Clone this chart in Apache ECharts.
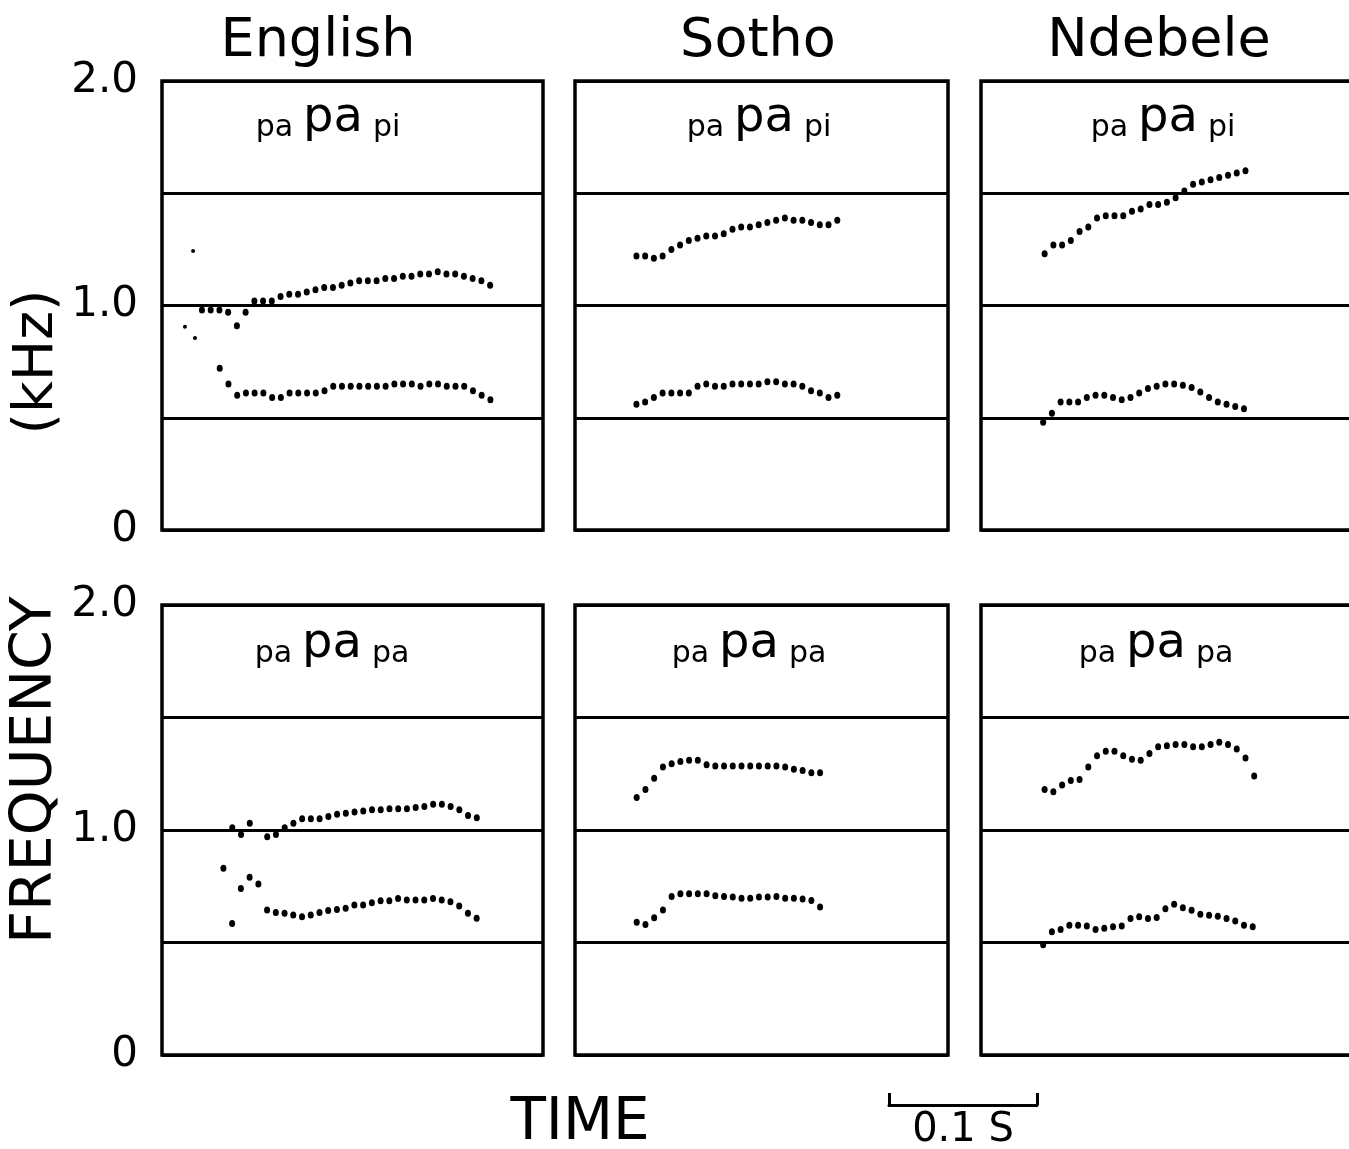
<!DOCTYPE html>
<html><head><meta charset="utf-8">
<script src="https://cdn.jsdelivr.net/npm/echarts@6/dist/echarts.min.js"></script>
<style>html,body{margin:0;padding:0;background:#fff}#c{width:1349px;height:1149px}</style>
</head><body><div id="c"></div>
<script>
// ---------------- data (time in ms, frequency in kHz) ----------------
const languages = ['English', 'Sotho', 'Ndebele'];
const utterances = ['pi', 'pa'];           // paPApi (top row), paPApa (bottom row)
const FRAME_MS = 5.9;                      // analysis frame step
const yTickLabels = {0: '0', 1: '1.0', 2: '2.0'};

// English paPApi
const engPiF2Start = 27;
const engPiF2 = [0.98,0.98,0.98,0.97,0.91,0.97,1.02,1.02,1.02,1.04,1.05,1.05,1.06,1.07,1.08,1.08,1.09,1.10,1.11,1.11,1.11,1.12,1.12,1.13,1.13,1.14,1.14,1.15,1.14,1.14,1.13,1.12,1.11,1.09];
const engPiF1Start = 39;
const engPiF1 = [0.72,0.65,0.60,0.61,0.61,0.61,0.59,0.59,0.61,0.61,0.61,0.61,0.62,0.64,0.64,0.64,0.64,0.64,0.64,0.64,0.65,0.65,0.65,0.64,0.65,0.65,0.64,0.64,0.64,0.62,0.60,0.58];
const engPiStray = [[15.5,0.905],[21,1.243],[22.3,0.855]];

// Sotho paPApi
const sotPiF2Start = 41.5;
const sotPiF2 = [1.22,1.22,1.21,1.22,1.25,1.27,1.29,1.30,1.31,1.31,1.32,1.34,1.35,1.35,1.36,1.37,1.38,1.39,1.38,1.38,1.37,1.36,1.36,1.38];
const sotPiF1Start = 41.5;
const sotPiF1 = [0.56,0.57,0.59,0.61,0.61,0.61,0.61,0.64,0.65,0.64,0.64,0.65,0.65,0.65,0.65,0.66,0.66,0.65,0.65,0.64,0.62,0.61,0.59,0.60];

// Ndebele paPApi
const ndePiF2Start = 43;
const ndePiF2 = [1.23,1.27,1.27,1.29,1.33,1.35,1.39,1.40,1.40,1.40,1.42,1.43,1.45,1.45,1.46,1.48,1.51,1.54,1.55,1.56,1.57,1.58,1.59,1.60];
const ndePiF1Start = 42;
const ndePiF1 = [0.48,0.52,0.57,0.57,0.57,0.59,0.60,0.60,0.59,0.58,0.59,0.61,0.63,0.64,0.65,0.65,0.645,0.635,0.615,0.59,0.57,0.56,0.55,0.54];

// English paPApa
const engPaF2Start = 47.5;
const engPaF2 = [1.01,0.98,1.03,null,0.97,0.98,1.01,1.03,1.05,1.05,1.05,1.06,1.07,1.075,1.08,1.085,1.09,1.09,1.095,1.095,1.095,1.10,1.105,1.115,1.115,1.105,1.09,1.065,1.055];
const engPaF1Start = 41.5;
const engPaF1 = [0.83,0.585,0.74,0.79,0.76,0.645,0.633,0.63,0.622,0.615,0.622,0.633,0.642,0.647,0.652,0.667,0.667,0.677,0.686,0.686,0.696,0.689,0.689,0.689,0.696,0.689,0.681,0.662,0.63,0.608];

// Sotho paPApa
const sotPaF2Start = 41.7;
const sotPaF2 = [1.145,1.18,1.23,1.28,1.295,1.305,1.31,1.31,1.29,1.285,1.285,1.285,1.285,1.285,1.285,1.285,1.285,1.28,1.27,1.265,1.255,1.255];
const sotPaF1Start = 41.7;
const sotPaF1 = [0.59,0.58,0.61,0.645,0.705,0.717,0.717,0.717,0.717,0.708,0.705,0.702,0.697,0.697,0.702,0.702,0.705,0.697,0.697,0.693,0.687,0.658];

// Ndebele paPApa
const ndePaF2Start = 43;
const ndePaF2 = [1.18,1.17,1.20,1.22,1.225,1.28,1.33,1.35,1.35,1.33,1.315,1.31,1.34,1.37,1.375,1.38,1.38,1.37,1.37,1.38,1.39,1.38,1.36,1.32,1.24];
const ndePaF1Start = 42;
const ndePaF1 = [0.49,0.548,0.558,0.577,0.577,0.573,0.558,0.563,0.570,0.573,0.607,0.614,0.607,0.611,0.650,0.670,0.655,0.643,0.626,0.621,0.617,0.607,0.596,0.577,0.570];

const scaleBarMs = 100;

// ---------------- layout ----------------
const PX_PER_MS = 1.48;
const FONT = 'DejaVu Sans';
const cols = [{left:162, width:381, cx:318, lx:328, lx2:332}, {left:575, width:373, cx:758, lx:759, lx2:749}, {left:981, width:380, cx:1159, lx:1163, lx2:1156}];
const rows = [{top:81, height:449, ly:117}, {top:605, height:450, ly:643}];

function track(start, vals) {
  const out = [];
  vals.forEach((v, i) => { if (v != null) out.push([start + i * FRAME_MS, v]); });
  return out;
}
const panelData = [
  [ // top row
    {f1: track(engPiF1Start, engPiF1), f2: track(engPiF2Start, engPiF2), stray: engPiStray},
    {f1: track(sotPiF1Start, sotPiF1), f2: track(sotPiF2Start, sotPiF2), stray: []},
    {f1: track(ndePiF1Start, ndePiF1), f2: track(ndePiF2Start, ndePiF2), stray: []}
  ],
  [ // bottom row
    {f1: track(engPaF1Start, engPaF1), f2: track(engPaF2Start, engPaF2), stray: []},
    {f1: track(sotPaF1Start, sotPaF1), f2: track(sotPaF2Start, sotPaF2), stray: []},
    {f1: track(ndePaF1Start, ndePaF1), f2: track(ndePaF2Start, ndePaF2), stray: []}
  ]
];

const grid = [], xAxis = [], yAxis = [], series = [], graphic = [];
let gi = 0;
rows.forEach((r, ri) => {
  cols.forEach((c, ci) => {
    grid.push({left: c.left, top: r.top, width: c.width, height: r.height, show: true,
      borderColor: '#000', borderWidth: 3.5, backgroundColor: 'transparent', containLabel: false, outerBoundsMode: 'none'});
    xAxis.push({gridIndex: gi, type: 'value', min: 0, max: c.width / PX_PER_MS, show: false});
    yAxis.push({gridIndex: gi, type: 'value', min: 0, max: 2, interval: 0.5,
      axisLine: {show: false}, axisTick: {show: false},
      splitLine: {show: true, lineStyle: {color: '#000', width: 3}},
      axisLabel: ci === 0 ? {show: true, margin: 24, color: '#000', fontFamily: FONT, fontSize: 42,
        formatter: v => (yTickLabels[v] !== undefined ? yTickLabels[v] : '')} : {show: false}});
    const d = panelData[ri][ci];
    const base = {type: 'scatter', xAxisIndex: gi, yAxisIndex: gi, silent: true,
      itemStyle: {color: '#000', opacity: 1}, symbol: 'circle'};
    series.push(Object.assign({}, base, {name: 'F1', data: d.f1, symbolSize: [6, 7]}));
    series.push(Object.assign({}, base, {name: 'F2', data: d.f2, symbolSize: [6, 7]}));
    if (d.stray.length) series.push(Object.assign({}, base, {name: 'stray', data: d.stray, symbolSize: 4}));
    gi++;
  });
});

// scale bar (0.1 s) drawn with its own time axis
grid.push({left: 889, top: 1085, width: scaleBarMs * PX_PER_MS, height: 20, show: false, outerBoundsMode: 'none'});
xAxis.push({gridIndex: gi, type: 'value', min: 0, max: scaleBarMs, interval: scaleBarMs, position: 'bottom',
  axisLine: {show: true, onZero: false, lineStyle: {color: '#000', width: 3}},
  axisTick: {show: true, inside: true, length: 12, lineStyle: {color: '#000', width: 3}},
  axisLabel: {show: false}, splitLine: {show: false},
  name: '0.1 S', nameLocation: 'middle', nameGap: 6,
  nameTextStyle: {color: '#000', fontFamily: FONT, fontSize: 40}});
yAxis.push({gridIndex: gi, type: 'value', min: 0, max: 1, show: false});

// titles and labels
cols.forEach((c, ci) => {
  graphic.push({type: 'text', x: c.cx, y: 42, style: {text: languages[ci], fill: '#000',
    font: '54px "' + FONT + '"', textAlign: 'center', textVerticalAlign: 'middle'}});
  rows.forEach((r, ri) => {
    graphic.push({type: 'text', x: ri === 0 ? c.lx : c.lx2, y: r.ly, style: {
      text: '{s|pa}{g|}{b|pa}{g|}{s|' + utterances[ri] + '}', fill: '#000', textAlign: 'center', textVerticalAlign: 'middle',
      font: '30px "' + FONT + '"',
      rich: {s: {fontSize: 30, fontFamily: FONT, lineHeight: 46, verticalAlign: 'bottom', fill: '#000'},
             g: {width: 10, fontSize: 30, lineHeight: 46},
             b: {fontSize: 48, fontFamily: FONT, lineHeight: 52, verticalAlign: 'bottom', fill: '#000'}}}});
  });
});
graphic.push({type: 'text', x: 36, y: 770, rotation: Math.PI / 2, style: {text: 'FREQUENCY', fill: '#000',
  font: '57px "' + FONT + '"', textAlign: 'center', textVerticalAlign: 'middle'}});
graphic.push({type: 'text', x: 38, y: 362, rotation: Math.PI / 2, style: {text: '(kHz)', fill: '#000',
  font: '55px "' + FONT + '"', textAlign: 'center', textVerticalAlign: 'middle'}});
graphic.push({type: 'text', x: 580, y: 1124, style: {text: 'TIME', fill: '#000',
  font: '58px "' + FONT + '"', textAlign: 'center', textVerticalAlign: 'middle'}});

const chart = echarts.init(document.getElementById('c'), null, {renderer: 'canvas'});
chart.setOption({backgroundColor: '#fff', animation: false, grid, xAxis, yAxis, series, graphic});
</script></body></html>
